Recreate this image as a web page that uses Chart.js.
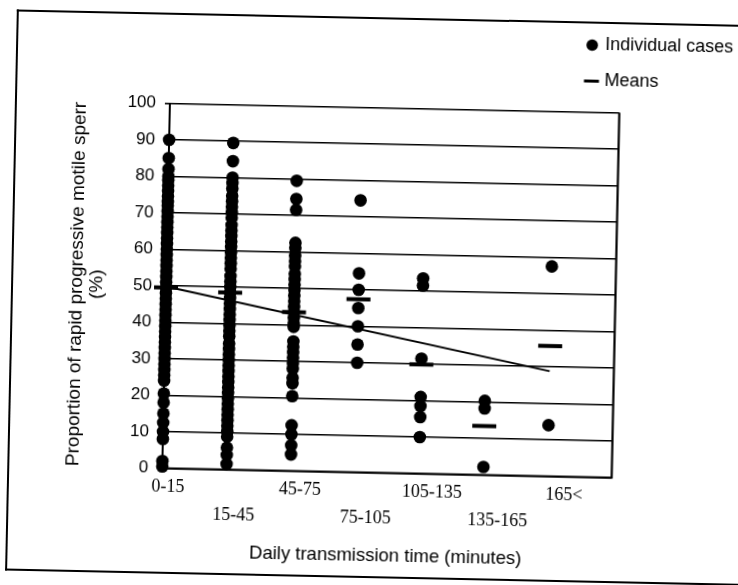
<!DOCTYPE html>
<html>
<head>
<meta charset="utf-8">
<script src="https://cdn.jsdelivr.net/npm/chart.js@4/dist/chart.umd.min.js"></script>
<style>
  html, body { margin: 0; padding: 0; background: #fff; overflow: hidden; }
  #page {
    position: relative; width: 738px; height: 585px;
    transform: rotate(1.2deg); transform-origin: 369px 292px;
  }
  #frame {
    position: absolute; left: 10.5px; top: 17px; width: 790px; height: 561px;
    border: 2.5px solid #000; border-right: none; box-sizing: border-box;
  }
  #chart { position: absolute; left: 0; top: 0; }
</style>
</head>
<body>
<div id="page">
  <div id="frame"></div>
  <canvas id="chart" width="738" height="585"></canvas>
</div>
<script>
// Daily transmission time groups (minutes)
const categories = ['0-15', '15-45', '45-75', '75-105', '105-135', '135-165', '165<'];

// Rapid progressive motile sperm (%) for each case, per group
const cases0to15 = [90, 85, 82, 80, 79, 77.5, 76, 74.5, 73, 72, 70.5, 69, 67.5, 66, 64.5, 63, 61.5, 60,
  58.5, 57, 55.5, 54, 52.5, 51, 49.5, 48, 46.5, 45, 43.5, 42, 40.5, 39, 37.5, 36, 34.5, 33, 31.5, 30,
  28.5, 27, 25.5, 24, 20.5, 18, 15, 12.5, 10, 8, 2, 0.5];
const cases15to45 = [89.5, 84.5, 80, 78.5, 77, 75, 73.5, 72, 70.5, 69, 67, 65.5, 64, 62.5, 61, 59.5, 58,
  56.5, 55, 53, 51.5, 50, 48.5, 47, 45.5, 44, 42.5, 41, 39.5, 38, 36.5, 34.5, 33, 31.5, 30, 28.5, 27,
  25.5, 24, 22.5, 21, 19.5, 18, 16.5, 15, 13.5, 12, 10.5, 9, 6, 4, 1.5];
const cases45to75 = [79.5, 74.5, 71.5, 62.5, 61, 59, 57.5, 56, 54, 52.5, 51, 49.5, 48, 46.5, 45, 43.5,
  42, 40.5, 39.5, 35.5, 34, 32.5, 31, 29.5, 28, 25.5, 24, 20.5, 12.5, 10, 7, 4.5];
const cases75to105 = [74.5, 54.5, 50, 45, 40, 35, 30];
const cases105to135 = [53.5, 51.5, 31.5, 21, 18.5, 15.5, 10];
const cases135to165 = [20.3, 18.2, 2.2];
const cases165up = [57.5, 14];
const caseGroups = [cases0to15, cases15to45, cases45to75, cases75to105, cases105to135, cases135to165, cases165up];

// Group means
const means = [49.5, 48.5, 43.5, 47.4, 29.9, 13.4, 35.7];

// Fitted trend: value at the first and the last group
const trendStart = 49.8;
const trendEnd = 28.8;

const SANS = '"Liberation Sans", Arial, sans-serif';
const SERIF = '"Liberation Serif", "Times New Roman", serif';
Chart.defaults.font.family = SANS;
Chart.defaults.color = '#000';

const dotData = [];
caseGroups.forEach((vals, i) => vals.forEach(v => dotData.push({ x: i, y: v })));
const meanData = means.map((v, i) => ({ x: i, y: v }));
const trendData = [{ x: 0, y: trendStart }, { x: categories.length - 1, y: trendEnd }];

// Right and bottom edges of the plot box
const plotBox = {
  id: 'plotBox',
  beforeDatasetsDraw(chart) {
    const { ctx, chartArea: a } = chart;
    ctx.save();
    ctx.strokeStyle = '#000';
    ctx.lineWidth = 2.2;
    ctx.beginPath();
    ctx.moveTo(a.left, a.bottom);
    ctx.lineTo(a.right, a.bottom);
    ctx.lineTo(a.right, a.top);
    ctx.stroke();
    ctx.restore();
  }
};

// Key in the upper right corner
const keyStyle = { markX: 587, textX: 600, rowY: [40.5, 76.5], font: '18px ' + SANS };
const keyPlugin = {
  id: 'key',
  afterDraw(chart) {
    const ctx = chart.ctx;
    const ds = chart.data.datasets;
    const dots = ds.find(d => d.label === 'Individual cases');
    const bars = ds.find(d => d.label === 'Means');
    ctx.save();
    ctx.fillStyle = '#000';
    ctx.strokeStyle = '#000';
    ctx.font = keyStyle.font;
    ctx.textBaseline = 'middle';
    ctx.beginPath();
    ctx.arc(keyStyle.markX, keyStyle.rowY[0], 5.8, 0, Math.PI * 2);
    ctx.fill();
    ctx.fillText(dots.label, keyStyle.textX, keyStyle.rowY[0]);
    ctx.lineWidth = 3;
    ctx.beginPath();
    ctx.moveTo(keyStyle.markX - 7.5, keyStyle.rowY[1]);
    ctx.lineTo(keyStyle.markX + 7.5, keyStyle.rowY[1]);
    ctx.stroke();
    ctx.fillText(bars.label, keyStyle.textX, keyStyle.rowY[1]);
    ctx.restore();
  }
};

new Chart(document.getElementById('chart'), {
  type: 'scatter',
  data: {
    datasets: [
      {
        label: 'Means', data: meanData, xAxisID: 'x', yAxisID: 'y',
        pointStyle: 'line', pointRadius: 12, pointHoverRadius: 12,
        borderColor: '#000', backgroundColor: '#000', borderWidth: 4, clip: false
      },
      {
        label: 'Trend', type: 'line', data: trendData, xAxisID: 'x', yAxisID: 'y',
        showLine: true, borderColor: '#000', borderWidth: 2, pointRadius: 0, fill: false, clip: false
      },
      {
        label: 'Individual cases', data: dotData, xAxisID: 'x', yAxisID: 'y',
        pointStyle: 'circle', pointRadius: 6.3, pointHoverRadius: 6.3,
        backgroundColor: '#000', borderWidth: 0, clip: false
      }
    ]
  },
  options: {
    responsive: false,
    animation: false,
    events: [],
    layout: { padding: { left: 0, top: 107.5, right: 122.5, bottom: 0 } },
    plugins: { legend: { display: false }, tooltip: { enabled: false } },
    scales: {
      x: { type: 'linear', display: false, min: 0, max: 7 },
      xl: {
        type: 'linear', position: 'bottom', min: -0.0909, max: 6.72,
        afterBuildTicks: s => { s.ticks = categories.map((_, i) => ({ value: i })); },
        afterFit: s => { s.height = 112.5; },
        grid: { display: false, drawTicks: false },
        border: { display: false },
        ticks: {
          autoSkip: false, maxRotation: 0, minRotation: 0, padding: 5.5, color: '#000',
          font: { family: SERIF, size: 18, lineHeight: 1.5 },
          callback: (v, i) => (i % 2 ? ['', categories[i]] : categories[i])
        },
        title: {
          display: true, text: 'Daily transmission time (minutes)', color: '#000',
          font: { family: SANS, size: 18.5, lineHeight: 1.15 },
          padding: { top: 0, bottom: 18 }
        }
      },
      y: {
        min: 0, max: 100,
        afterFit: s => { s.width = 166; },
        ticks: { stepSize: 10, padding: 9, color: '#000', font: { family: SANS, size: 17 } },
        grid: { color: '#000', lineWidth: 1.6, tickLength: 5 },
        border: { color: '#000', width: 2 },
        title: {
          display: true,
          text: ['Proportion of rapid progressive motile sperr', '(%)'],
          color: '#000',
          font: { family: SANS, size: 19, lineHeight: 20 / 19 },
          padding: { top: 67, bottom: 0 }
        }
      }
    }
  },
  plugins: [plotBox, keyPlugin]
});
</script>
</body>
</html>
